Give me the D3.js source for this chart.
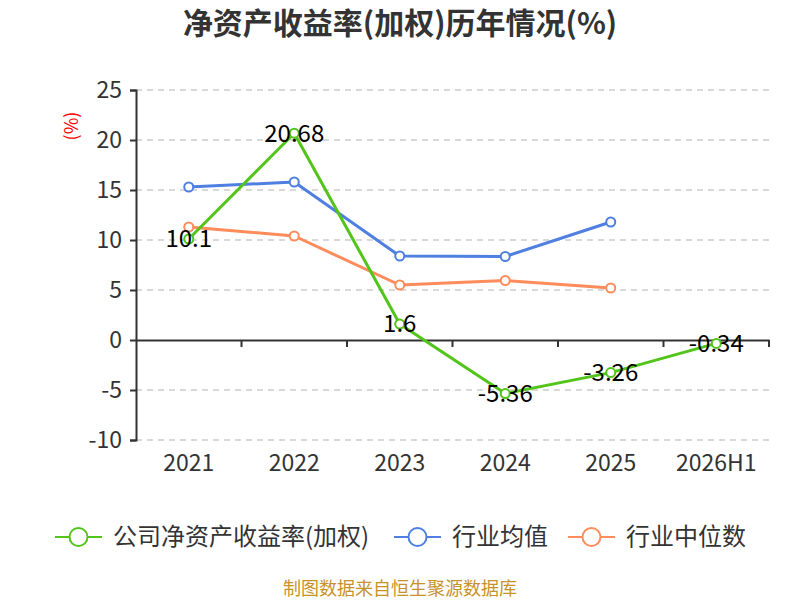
<!DOCTYPE html>
<html><head><meta charset="utf-8">
<script src="https://cdn.jsdelivr.net/npm/d3@7/dist/d3.min.js"></script>
<style>body{margin:0;background:#fff}svg{display:block}text{font-family:"Noto Sans CJK SC","Noto Sans",sans-serif}</style>
</head><body><svg id="c" width="800" height="600"></svg>
<script>
const categories = ["2021","2022","2023","2024","2025","2026H1"];
const companyROE = [10.1, 20.68, 1.6, -5.36, -3.26, -0.34];
const industryAvg = [15.3, 15.8, 8.4, 8.35, 11.8, null];
const industryMedian = [11.3, 10.4, 5.5, 5.95, 5.2, null];
const yTicks = [-10,-5,0,5,10,15,20,25];
const seriesNames = ["公司净资产收益率(加权)","行业均值","行业中位数"];
const colors = ["#52c41a","#4e7fe1","#ff8c5a"];

(function(){
const svg = d3.select("#c");
const pL = 136, pR = 769, pT = 90, pB = 440;
const x = d3.scaleBand().domain(categories).range([pL,pR]);
const y = d3.scaleLinear().domain([-10,25]).range([pB,pT]);

svg.append("text").attr("x",400).attr("y",34).attr("text-anchor","middle")
  .attr("font-size",30).attr("font-weight","bold").attr("fill","#333").text("净资产收益率(加权)历年情况(%)");

svg.append("g").selectAll("line").data(yTicks.filter(d=>d!==0)).join("line")
  .attr("x1",pL).attr("x2",pR).attr("y1",d=>y(d)).attr("y2",d=>y(d))
  .attr("stroke","#ccc").attr("stroke-width",1.5).attr("stroke-dasharray","6,5");

const ya = svg.append("g").attr("transform",`translate(${pL},0)`)
  .call(d3.axisLeft(y).tickValues(yTicks).tickFormat(d=>String(d)).tickSize(6).tickPadding(8));
ya.select(".domain").attr("stroke","#333").attr("stroke-width",2);
ya.selectAll(".tick line").attr("stroke","#333").attr("stroke-width",2);
ya.selectAll("text").attr("font-size",23).attr("fill","#333").attr("font-family",'"Noto Sans CJK SC",sans-serif');

const xa = svg.append("g").attr("transform",`translate(0,${y(0)})`)
  .call(d3.axisBottom(x).tickSizeOuter(0).tickSize(0));
xa.select(".domain").attr("stroke","#333").attr("stroke-width",2);
xa.selectAll(".tick text").attr("font-size",23).attr("fill","#333")
  .attr("font-family",'"Noto Sans CJK SC",sans-serif')
  .attr("transform",`translate(0,${y(-10)-y(0)+12})`);
xa.selectAll(".tick line").remove();
const bounds = categories.map(c=>x(c)+x.bandwidth());
xa.append("g").selectAll("line").data(bounds).join("line")
  .attr("x1",d=>d).attr("x2",d=>d).attr("y1",0).attr("y2",7)
  .attr("stroke","#333").attr("stroke-width",2);

svg.append("text").attr("transform",`translate(78,126) rotate(-90)`).attr("text-anchor","middle")
  .attr("font-size",18).attr("fill","red").text("(%)");

const cx = c => x(c)+x.bandwidth()/2;
const allSeries = [companyROE, industryAvg, industryMedian];
const line = d3.line().defined(d=>d.v!==null).x(d=>cx(d.c)).y(d=>y(d.v));
[2,1,0].forEach(si=>{
  const data = categories.map((c,i)=>({c,v:allSeries[si][i]}));
  svg.append("path").datum(data).attr("d",line).attr("fill","none")
    .attr("stroke",colors[si]).attr("stroke-width",3).attr("stroke-linejoin","round");
  svg.append("g").selectAll("circle").data(data.filter(d=>d.v!==null)).join("circle")
    .attr("cx",d=>cx(d.c)).attr("cy",d=>y(d.v)).attr("r",4.5)
    .attr("fill","#fff").attr("stroke",colors[si]).attr("stroke-width",2);
});
svg.append("g").selectAll("text").data(categories.map((c,i)=>({c,v:companyROE[i]}))).join("text")
  .attr("x",d=>cx(d.c)).attr("y",d=>y(d.v)).attr("dy","0.35em").attr("text-anchor","middle")
  .attr("font-size",24).attr("fill","#000").text(d=>String(d.v));

const legX = [55, 394, 568];
const lg = svg.append("g");
seriesNames.forEach((n,i)=>{
  const g = lg.append("g").attr("transform",`translate(${legX[i]},537)`);
  g.append("line").attr("x1",0).attr("x2",47).attr("stroke",colors[i]).attr("stroke-width",2);
  g.append("circle").attr("cx",23.5).attr("r",9).attr("fill","#fff").attr("stroke",colors[i]).attr("stroke-width",2);
  g.append("text").attr("x",58).attr("dy","0.35em").attr("font-size",24).attr("fill","#333").text(n);
});

svg.append("text").attr("x",400).attr("y",595).attr("text-anchor","middle")
  .attr("font-size",18).attr("fill","#c8922a").text("制图数据来自恒生聚源数据库");
})();
</script></body></html>
